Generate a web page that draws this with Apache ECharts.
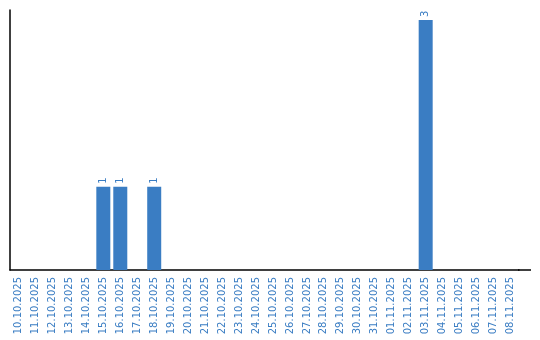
<!DOCTYPE html>
<html><head><meta charset="utf-8">
<script src="https://cdn.jsdelivr.net/npm/echarts@6/dist/echarts.min.js"></script>
<style>html,body{margin:0;padding:0;background:#fff}#c{width:540px;height:340px}</style>
</head><body><div id="c"></div>
<script>
const categories = ["10.10.2025","11.10.2025","12.10.2025","13.10.2025","14.10.2025","15.10.2025","16.10.2025","17.10.2025","18.10.2025","19.10.2025","20.10.2025","21.10.2025","22.10.2025","23.10.2025","24.10.2025","25.10.2025","26.10.2025","27.10.2025","28.10.2025","29.10.2025","30.10.2025","31.10.2025","01.11.2025","02.11.2025","03.11.2025","04.11.2025","05.11.2025","06.11.2025","07.11.2025","08.11.2025"];
const values = [0,0,0,0,0,1,1,0,1,0,0,0,0,0,0,0,0,0,0,0,0,0,0,0,3,0,0,0,0,0];
const blue = '#3a7dc3';
const chart = echarts.init(document.getElementById('c'));
chart.setOption({
  animation:false,
  grid:{left:10,right:21,top:10,bottom:70,containLabel:false},
  graphic:[{type:'line',shape:{x1:518,y1:270,x2:531,y2:270},style:{stroke:'#000',lineWidth:1.5}}],
  xAxis:{type:'category',data:categories,
    axisLine:{lineStyle:{color:'#000',width:1.5}},
    axisTick:{show:false},
    axisLabel:{rotate:90,interval:0,color:blue,fontSize:10,fontFamily:'DejaVu Sans',margin:7}},
  yAxis:{type:'value',min:0,max:3.12,
    axisLine:{show:true,lineStyle:{color:'#000',width:1.5}},
    axisTick:{show:false},axisLabel:{show:false},splitLine:{show:false}},
  series:[{type:'bar',data:values.map(v=>v===0?{value:0,label:{show:false}}:v),barWidth:14,
    itemStyle:{color:blue},
    label:{show:true,position:'top',rotate:90,align:'left',verticalAlign:'middle',distance:3,
      color:blue,fontSize:10,fontFamily:'DejaVu Sans'}}]
});
</script></body></html>
